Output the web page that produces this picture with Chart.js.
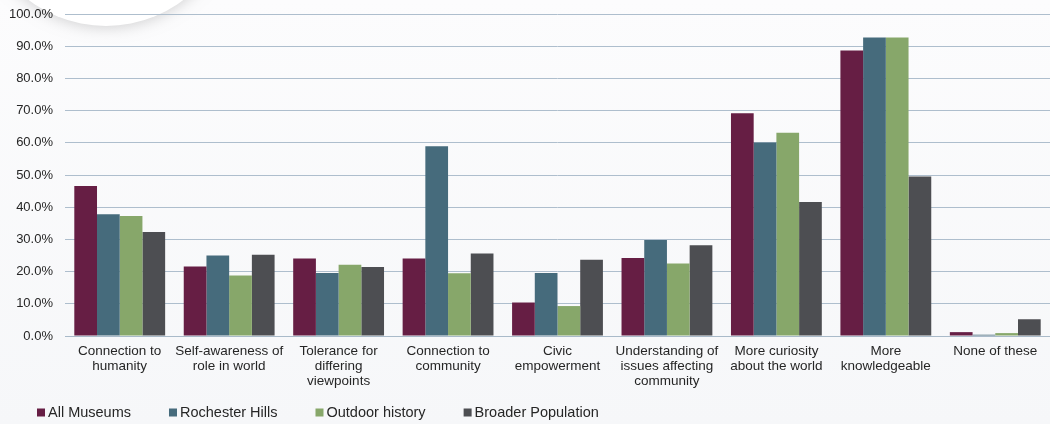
<!DOCTYPE html>
<html>
<head>
    <title>Museum Visit Outcomes</title>
    <script src="https://cdn.jsdelivr.net/npm/chart.js"></script>
    <style>
        body {
            margin: 0;
            background: #f7f8fa;
        }
        .chart-box {
            width: 1050px;
            height: 424px;
        }
    </style>
</head>
<body>
    <div class="chart-box">
        <canvas id="outcomesChart"></canvas>
    </div>

    <script>
        const categories = [
            ['Connection to', 'humanity'],
            ['Self-awareness of', 'role in world'],
            ['Tolerance for', 'differing', 'viewpoints'],
            ['Connection to', 'community'],
            ['Civic', 'empowerment'],
            ['Understanding of', 'issues affecting', 'community'],
            ['More curiosity', 'about the world'],
            ['More', 'knowledgeable'],
            ['None of these']
        ];
        const seriesNames = ['All Museums', 'Rochester Hills', 'Outdoor history', 'Broader Population'];
        const seriesColors = ['#661e44', '#466b7c', '#87a76a', '#4d4e52'];

        // percent of respondents
        const allMuseums = [46.6, 21.6, 24.1, 24.1, 10.4, 24.2, 69.2, 88.7, 1.2];
        const rochesterHills = [37.8, 25.0, 19.6, 58.9, 19.6, 29.8, 60.1, 92.7, 0.4];
        const outdoorHistory = [37.3, 18.8, 22.1, 19.5, 9.3, 22.5, 63.1, 92.7, 0.9];
        const broaderPopulation = [32.3, 25.2, 21.4, 25.6, 23.7, 28.2, 41.6, 49.5, 5.2];

        const yTickValues = [0, 10, 20, 30, 40, 50, 60, 70, 80, 90, 100];

        const fontFamily = '"Liberation Sans", Arial, sans-serif';

        // page background plus the white disc peeking in at the top left
        const backdrop = {
            id: 'backdrop',
            beforeDraw(chart) {
                const ctx = chart.ctx;
                ctx.save();
                const grad = ctx.createLinearGradient(0, 0, 0, chart.height);
                grad.addColorStop(0, '#fcfcfd');
                grad.addColorStop(1, '#f6f7f9');
                ctx.fillStyle = grad;
                ctx.fillRect(0, 0, chart.width, chart.height);
                ctx.shadowColor = 'rgba(0, 0, 0, 0.16)';
                ctx.shadowBlur = 14;
                ctx.shadowOffsetY = 2;
                ctx.fillStyle = '#ffffff';
                ctx.beginPath();
                ctx.arc(106, -102, 128, 0, Math.PI * 2);
                ctx.fill();
                ctx.restore();
            }
        };

        // legend row under the axis labels
        const bottomLegend = {
            id: 'bottomLegend',
            afterDraw(chart) {
                const ctx = chart.ctx;
                ctx.save();
                ctx.font = '14.5px ' + fontFamily;
                ctx.textBaseline = 'middle';
                const y = 412.5;
                let x = 37;
                chart.data.datasets.forEach((ds) => {
                    ctx.fillStyle = ds.backgroundColor;
                    ctx.fillRect(x, y - 4, 8, 8);
                    ctx.fillStyle = '#262626';
                    ctx.fillText(ds.label, x + 11, y);
                    x += 11 + ctx.measureText(ds.label).width + 38;
                });
                ctx.restore();
            }
        };

        const seriesValues = [allMuseums, rochesterHills, outdoorHistory, broaderPopulation];

        const data = {
            labels: categories,
            datasets: seriesNames.map((name, i) => ({
                label: name,
                data: seriesValues[i],
                backgroundColor: seriesColors[i],
                categoryPercentage: 0.83,
                barPercentage: 1.0
            }))
        };

        const config = {
            type: 'bar',
            data: data,
            options: {
                responsive: true,
                maintainAspectRatio: false,
                animation: false,
                layout: {
                    padding: { top: 14, left: 0, right: 0, bottom: 0 }
                },
                plugins: {
                    legend: { display: false },
                    tooltip: { enabled: false }
                },
                scales: {
                    x: {
                        grid: { display: false, drawTicks: false },
                        border: { color: '#a9bac9' },
                        ticks: {
                            color: '#262626',
                            font: { family: fontFamily, size: 13.5, lineHeight: 1.1 },
                            padding: 8,
                            maxRotation: 0,
                            autoSkip: false
                        },
                        afterFit: (scale) => { scale.height = 88; }
                    },
                    y: {
                        min: 0,
                        max: 100,
                        afterBuildTicks: (scale) => {
                            scale.ticks = yTickValues.map((v) => ({ value: v }));
                        },
                        ticks: {
                            color: '#262626',
                            font: { family: fontFamily, size: 13 },
                            padding: 12,
                            callback: (v) => v.toFixed(1) + '%'
                        },
                        grid: { color: '#aebecd', drawTicks: false },
                        border: { display: false },
                        afterFit: (scale) => {
                            scale.width = 65;
                            // the tick padding is horizontal only; don't let it push the plot down
                            scale.paddingTop = 0;
                            scale.paddingBottom = 0;
                        }
                    }
                }
            },
            plugins: [backdrop, bottomLegend]
        };

        new Chart(document.getElementById('outcomesChart'), config);
    </script>
</body>
</html>
